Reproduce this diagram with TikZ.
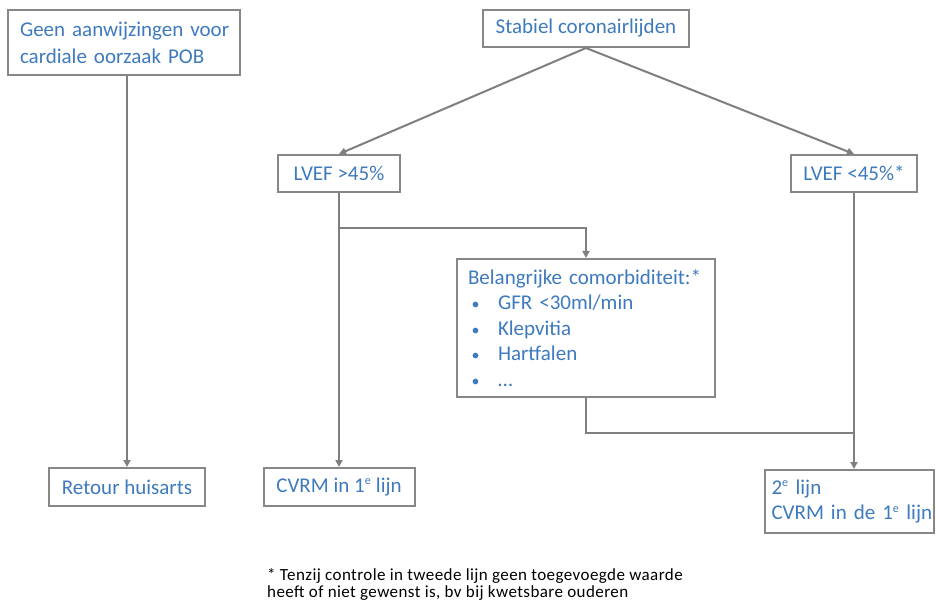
\documentclass[tikz,border=0pt]{standalone}
\usepackage{fontspec}
\setmainfont{Carlito}
\usetikzlibrary{arrows.meta,calc}
\definecolor{txtblue}{HTML}{3E7ABE}
\definecolor{boxgray}{HTML}{878787}
\definecolor{linegray}{HTML}{7F7F7F}
\newcommand{\supe}{\textsuperscript{\fontsize{12}{12}\selectfont e}}
\begin{document}
\begin{tikzpicture}[x=1pt,y=-1pt,
  box/.style={draw=boxgray, line width=2pt, fill=white, text=txtblue,
    font=\fontsize{21}{25.6}\selectfont, inner sep=0pt},
  conn/.style={draw=linegray, line width=2pt, -{Triangle[length=7pt,width=7pt]}},
  plainline/.style={draw=linegray, line width=2pt}]
\useasboundingbox[fill=white] (0,0) rectangle (936,609);

\node[box, minimum width=232, minimum height=65, text width=208, align=left,
  font=\fontsize{21}{27}\selectfont] (b1) at (124,42.5) {\mbox{Geen aanwijzingen voor}\\\mbox{cardiale oorzaak POB}};
\node[box, minimum width=206, minimum height=37] (b2) at (586,28.5) {Stabiel coronairlijden};
\node[box, minimum width=122, minimum height=37] (lv1) at (339,173.5) {LVEF >45\%};
\node[box, minimum width=126, minimum height=37] (lv2) at (854,173.5) {LVEF <45\%*};
\node[box, minimum width=258, minimum height=138, text width=236, align=left] (bel) at (586,328)
  {Belangrijke comorbiditeit:*\\
   \makebox[30pt][l]{\,\fontsize{16}{16}\selectfont•}GFR <30ml/min\\
   \makebox[30pt][l]{\,\fontsize{16}{16}\selectfont•}Klepvitia\\
   \makebox[30pt][l]{\,\fontsize{16}{16}\selectfont•}Hartfalen\\
   \makebox[30pt][l]{\,\fontsize{16}{16}\selectfont•}…};
\node[box, minimum width=156, minimum height=38] (rh) at (127,487) {Retour huisarts};
\node[box, minimum width=151, minimum height=38] (cv1) at (339,487) {CVRM in 1\supe{} lijn};
\node[box, minimum width=169, minimum height=63, text width=156, align=left] (l2) at (849.5,501.5)
  {\mbox{2\supe{} lijn}\\\mbox{CVRM in de 1\supe{} lijn}};

\coordinate (j1) at (339,228);
\coordinate (j2) at (854,433);

\draw[conn] (rh.north |- b1.south) -- (rh.north);
\draw[conn] (b2.south) -- (lv1.north);
\draw[conn] (b2.south) -- (lv2.north);
\draw[conn] (lv1.south) -- (cv1.north);
\draw[conn] (j1) -| (bel.north);
\draw[plainline] (bel.south) |- (j2);
\draw[conn] (lv2.south) -- (lv2.south |- l2.north);

\node[anchor=north west, inner sep=0pt, align=left, text=black,
  font=\fontsize{17}{17.5}\selectfont\addfontfeature{LetterSpace=2.5}] (fn) at (267,568)
  {* Tenzij controle in tweede lijn geen toegevoegde waarde\\heeft of niet gewenst is, bv bij kwetsbare ouderen};
\end{tikzpicture}
\end{document}
